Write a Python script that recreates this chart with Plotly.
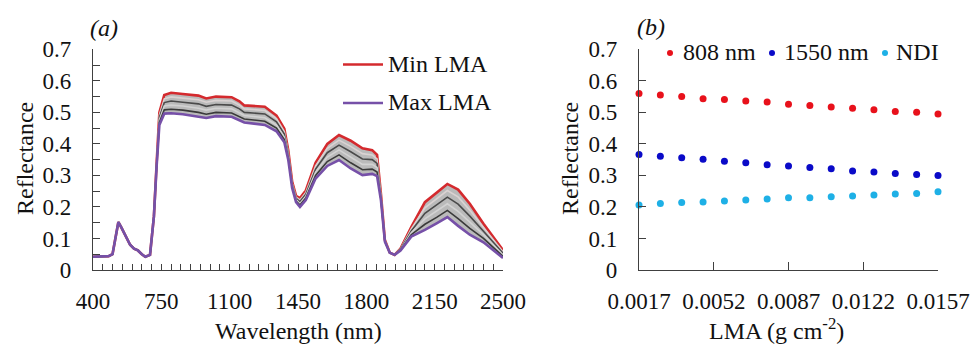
import plotly.graph_objects as go

# ---------------- data: panel (a) spectra ----------------
wl_vis = [400, 480, 500, 512, 530, 545, 560, 575, 590, 610, 630, 650, 668, 692, 712]
refl_vis = [0.042, 0.044, 0.050, 0.090, 0.152, 0.135, 0.116, 0.095, 0.080, 0.068,
            0.062, 0.050, 0.042, 0.048, 0.170]

wl_nir = [726, 740, 765, 800, 860, 940, 980, 1030, 1110, 1150, 1175, 1280, 1340,
          1380, 1400, 1420, 1440, 1460, 1490, 1540, 1600, 1660, 1720, 1780, 1830,
          1855, 1875, 1895, 1920, 1945, 1975, 2030, 2100, 2160, 2215, 2270, 2330,
          2400, 2500]

min_lma = [0.340, 0.500, 0.555, 0.562, 0.558, 0.553, 0.544, 0.550, 0.548, 0.535,
           0.522, 0.518, 0.490, 0.448, 0.380, 0.280, 0.235, 0.228, 0.252, 0.340,
           0.400, 0.428, 0.410, 0.386, 0.380, 0.365, 0.240, 0.095, 0.055, 0.048,
           0.068, 0.136, 0.215, 0.245, 0.273, 0.255, 0.210, 0.147, 0.063]

mid_80 = [0.338, 0.492, 0.543, 0.549, 0.545, 0.540, 0.532, 0.538, 0.536, 0.523,
          0.511, 0.506, 0.480, 0.439, 0.374, 0.276, 0.231, 0.222, 0.246, 0.330,
          0.386, 0.412, 0.392, 0.369, 0.365, 0.352, 0.236, 0.094, 0.055, 0.048,
          0.067, 0.130, 0.197, 0.226, 0.252, 0.232, 0.190, 0.135, 0.058]

mid_60 = [0.336, 0.484, 0.531, 0.536, 0.532, 0.527, 0.519, 0.525, 0.523, 0.511,
          0.500, 0.495, 0.470, 0.431, 0.368, 0.272, 0.227, 0.217, 0.240, 0.320,
          0.372, 0.396, 0.375, 0.352, 0.350, 0.338, 0.232, 0.093, 0.055, 0.048,
          0.066, 0.124, 0.180, 0.206, 0.231, 0.209, 0.171, 0.123, 0.053]

mid_40 = [0.334, 0.476, 0.520, 0.523, 0.520, 0.513, 0.507, 0.513, 0.511, 0.499,
          0.490, 0.483, 0.460, 0.422, 0.362, 0.268, 0.223, 0.211, 0.234, 0.310,
          0.358, 0.381, 0.357, 0.335, 0.335, 0.325, 0.228, 0.092, 0.055, 0.048,
          0.064, 0.118, 0.162, 0.187, 0.210, 0.186, 0.151, 0.112, 0.048]

mid_20 = [0.332, 0.468, 0.508, 0.510, 0.507, 0.500, 0.494, 0.500, 0.498, 0.487,
          0.479, 0.472, 0.450, 0.414, 0.356, 0.264, 0.219, 0.206, 0.228, 0.300,
          0.344, 0.365, 0.340, 0.318, 0.320, 0.311, 0.224, 0.091, 0.055, 0.048,
          0.063, 0.112, 0.145, 0.167, 0.189, 0.163, 0.132, 0.100, 0.043]

max_lma = [0.330, 0.460, 0.496, 0.497, 0.494, 0.487, 0.482, 0.488, 0.486, 0.475,
           0.468, 0.460, 0.440, 0.405, 0.350, 0.260, 0.215, 0.200, 0.222, 0.290,
           0.330, 0.349, 0.322, 0.301, 0.305, 0.298, 0.220, 0.090, 0.055, 0.048,
           0.062, 0.106, 0.127, 0.148, 0.168, 0.140, 0.112, 0.088, 0.038]

# ---------------- data: panel (b) ----------------
lma = [0.0017, 0.0027, 0.0037, 0.0047, 0.0057, 0.0067, 0.0077, 0.0087,
       0.0097, 0.0107, 0.0117, 0.0127, 0.0137, 0.0147, 0.0157]
r808 = [0.560, 0.555, 0.550, 0.543, 0.541, 0.536, 0.533, 0.526, 0.522, 0.517,
        0.513, 0.508, 0.503, 0.500, 0.495]
r1550 = [0.366, 0.361, 0.356, 0.351, 0.345, 0.340, 0.334, 0.330, 0.325, 0.321,
         0.314, 0.311, 0.306, 0.303, 0.300]
ndi = [0.206, 0.211, 0.214, 0.216, 0.219, 0.222, 0.225, 0.229, 0.229, 0.232,
       0.235, 0.238, 0.241, 0.243, 0.248]

xticks_a = [400, 750, 1100, 1450, 1800, 2150, 2500]
xticks_b = [0.0017, 0.0052, 0.0087, 0.0122, 0.0157]

# ---------------- style ----------------
W, H = 976, 345
FONT = "Liberation Serif, Times New Roman, DejaVu Serif, serif"
AX = "#404040"
RED_LINE = "#d42a2e"
PURPLE = "#7650a8"
C808, C1550, CNDI = "#e8111b", "#0a0ac8", "#1eb0e6"


def px(x):
    return x / W


def py(y):
    return 1 - y / H


wl_all = wl_vis + wl_nir
fig = go.Figure()

# band fill between min and max
fig.add_trace(go.Scatter(x=wl_all, y=refl_vis + min_lma, mode="lines",
                         line=dict(width=0, color="#b8b8b8"), showlegend=False,
                         hoverinfo="skip", xaxis="x", yaxis="y"))
fig.add_trace(go.Scatter(x=wl_all, y=refl_vis + max_lma, mode="lines",
                         line=dict(width=0, color="#b8b8b8"), fill="tonexty",
                         fillcolor="#bababa", showlegend=False,
                         hoverinfo="skip", xaxis="x", yaxis="y"))

fig.add_trace(go.Scatter(x=wl_all, y=refl_vis + min_lma, mode="lines",
                         line=dict(width=2.6, color=RED_LINE), name="Min LMA",
                         xaxis="x", yaxis="y"))
for vals, col in [(mid_80, "#dad2d2"), (mid_60, "#4a4a4a"),
                  (mid_40, "#d2d2d2"), (mid_20, "#3a3a3a")]:
    fig.add_trace(go.Scatter(x=wl_all, y=refl_vis + vals, mode="lines",
                             line=dict(width=1.6, color=col), showlegend=False,
                             xaxis="x", yaxis="y"))
fig.add_trace(go.Scatter(x=wl_all, y=refl_vis + max_lma, mode="lines",
                         line=dict(width=2.6, color=PURPLE), name="Max LMA",
                         xaxis="x", yaxis="y"))

for vals, col, name in [(r808, C808, "808 nm"), (r1550, C1550, "1550 nm"),
                        (ndi, CNDI, "NDI")]:
    fig.add_trace(go.Scatter(x=lma, y=vals, mode="markers", name=name,
                             marker=dict(size=7, color=col), cliponaxis=False,
                             xaxis="x2", yaxis="y2"))

axis_common = dict(showline=True, linecolor=AX, linewidth=1.3, showgrid=False,
                   zeroline=False, ticks="inside", tickcolor=AX, tickwidth=1.2,
                   automargin=False,
                   tickfont=dict(family=FONT, size=23, color="#111111"))

ydom = [py(270), py(49.3)]
fig.update_layout(
    width=W, height=H, autosize=False,
    margin=dict(l=0, r=0, t=0, b=0, pad=0, autoexpand=False),
    paper_bgcolor="white", plot_bgcolor="white",
    showlegend=False,
    font=dict(family=FONT),
    xaxis=dict(domain=[px(93), px(503)], range=[400, 2500], tickvals=xticks_a,
               ticklen=6, ticklabelstandoff=10,
               minor=dict(dtick=50, tick0=400, ticks="inside", ticklen=6,
                          tickcolor=AX, tickwidth=1.2),
               anchor="y", **axis_common),
    yaxis=dict(domain=ydom, range=[0, 0.7], dtick=0.1, ticklen=7,
               ticklabelstandoff=16,
               minor=dict(dtick=0.05, ticks="inside", ticklen=7,
                          tickcolor=AX, tickwidth=1.2),
               anchor="x", **axis_common),
    xaxis2=dict(domain=[px(639), px(938)], range=[0.0017, 0.0157],
                tickvals=xticks_b, tickformat=".4f", ticklen=8,
                ticklabelstandoff=10, anchor="y2", **axis_common),
    yaxis2=dict(domain=ydom, range=[0, 0.7], dtick=0.1, ticklen=7,
                ticklabelstandoff=16, anchor="x2", **axis_common),
)

ann_font = dict(family=FONT, size=24, color="#111111")
annotations = [
    dict(text="Reflectance", x=px(25), y=py(159), textangle=-90),
    dict(text="Reflectance", x=px(570), y=py(159), textangle=-90),
    dict(text="Wavelength (nm)", x=px(298), y=py(331)),
    dict(text="LMA (g cm<sup>-2</sup>)", x=px(776), y=py(329)),
    dict(text="<i>(a)</i>", x=px(104), y=py(28)),
    dict(text="<i>(b)</i>", x=px(651), y=py(27)),
    dict(text="Min LMA", x=px(386), y=py(64), xanchor="left"),
    dict(text="Max LMA", x=px(386), y=py(102), xanchor="left"),
    dict(text="808 nm", x=px(681), y=py(52), xanchor="left"),
    dict(text="1550 nm", x=px(782), y=py(52), xanchor="left"),
    dict(text="NDI", x=px(894), y=py(52), xanchor="left"),
]
for a in annotations:
    a.setdefault("xanchor", "center")
    fig.add_annotation(xref="paper", yref="paper", showarrow=False,
                       yanchor="middle", font=ann_font, **a)

# legend keys
shapes = [
    dict(type="line", x0=px(343), x1=px(383), y0=py(64.5), y1=py(64.5),
         line=dict(color=RED_LINE, width=2.6)),
    dict(type="line", x0=px(343), x1=px(383), y0=py(103), y1=py(103),
         line=dict(color=PURPLE, width=2.6)),
]
for cx, col in [(670, C808), (772, C1550), (885, CNDI)]:
    shapes.append(dict(type="circle", x0=px(cx - 3), x1=px(cx + 3),
                       y0=py(53 + 3), y1=py(53 - 3),
                       fillcolor=col, line=dict(width=0)))
for s in shapes:
    fig.add_shape(xref="paper", yref="paper", **s)

fig.write_html("out.html", config={"displayModeBar": False},
               post_script="document.body.style.margin='0px';"
                           "document.body.style.overflow='hidden';")
